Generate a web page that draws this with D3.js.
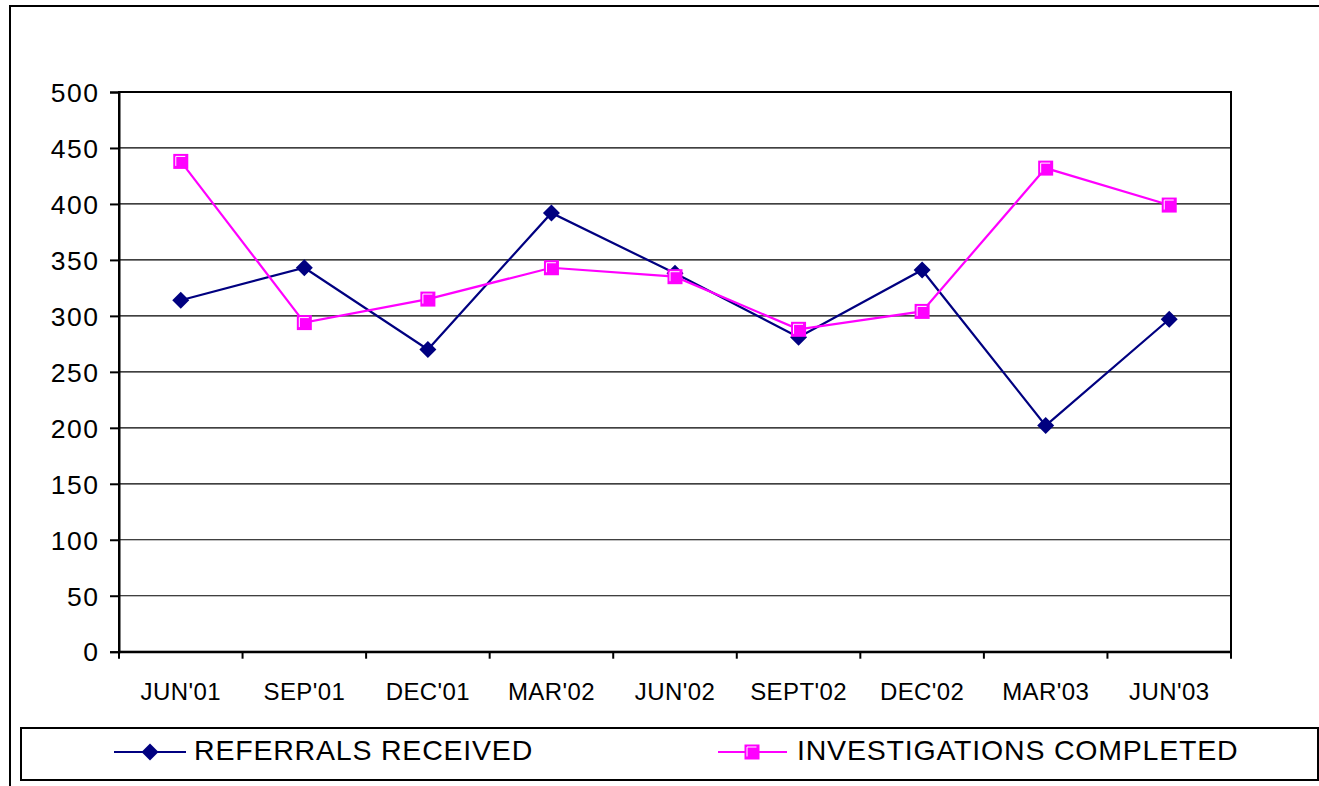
<!DOCTYPE html>
<html>
<head>
<meta charset="utf-8">
<script src="https://cdn.jsdelivr.net/npm/d3@7/dist/d3.min.js"></script>
<style>
html,body{margin:0;padding:0;background:#fff;}
svg{display:block;font-family:"Liberation Sans",Arial,sans-serif;}
</style>
</head>
<body>
<svg id="chart" width="1319" height="786"></svg>
<script>
const categories = ["JUN'01","SEP'01","DEC'01","MAR'02","JUN'02","SEPT'02","DEC'02","MAR'03","JUN'03"];
const referrals = [314, 343, 270, 392, 338, 281, 341, 202, 297];
const investigations = [438, 294, 315, 343, 335, 288, 304, 432, 399];
const yTicks = [0,50,100,150,200,250,300,350,400,450,500];
const seriesNames = ["REFERRALS RECEIVED","INVESTIGATIONS COMPLETED"];

const svg = d3.select("#chart");
const navy = "#000080", magenta = "#FF00FF";

// outer frame
svg.append("rect").attr("x",10).attr("y",6).attr("width",1400).attr("height",900)
  .attr("fill","none").attr("stroke","#000").attr("stroke-width",2);

const x = d3.scaleBand().domain(categories).range([119,1231]).padding(0);
const y = d3.scaleLinear().domain([0,500]).range([651.7,92]);

// gridlines
svg.append("g").selectAll("line").data(yTicks.filter(d=>d>0)).join("line")
  .attr("x1",119).attr("x2",1231).attr("y1",d=>y(d)).attr("y2",d=>y(d))
  .attr("stroke","#000").attr("stroke-width",1.2);

// plot border
svg.append("rect").attr("x",119).attr("y",y(500)).attr("width",1231-119).attr("height",y(0)-y(500))
  .attr("fill","none").attr("stroke","#000").attr("stroke-width",2);

// y axis
const yAxis = d3.axisLeft(y).tickValues(yTicks).tickSize(9).tickPadding(10.5);
const gy = svg.append("g").attr("transform","translate(119,0)").call(yAxis);
gy.select(".domain").attr("stroke","#000").attr("stroke-width",2);
gy.selectAll(".tick line").attr("stroke","#000").attr("stroke-width",2);
gy.selectAll(".tick text").attr("font-size","26.5px").attr("fill","#000").attr("letter-spacing","1.5px")
  .attr("font-family","'Liberation Sans',Arial,sans-serif").attr("dy","0.35em");

// x axis
const xAxis = d3.axisBottom(x).tickSize(0).tickPadding(0);
const gx = svg.append("g").attr("transform",`translate(0,${y(0)})`).call(xAxis);
gx.select(".domain").attr("stroke","#000").attr("stroke-width",2);
gx.selectAll(".tick text").attr("font-size","24px").attr("fill","#000").attr("letter-spacing","0.4px")
  .attr("font-family","'Liberation Sans',Arial,sans-serif").attr("dy",null).attr("y",48);
// category boundary ticks
const bounds = categories.map(c=>x(c)).concat([x(categories[categories.length-1])+x.bandwidth()]);
svg.append("g").selectAll("line").data(bounds).join("line")
  .attr("x1",d=>d).attr("x2",d=>d).attr("y1",y(0)).attr("y2",y(0)+7)
  .attr("stroke","#000").attr("stroke-width",2);

const cx = c => x(c)+x.bandwidth()/2;
const line = d3.line().x((d,i)=>cx(categories[i])).y(d=>y(d));

function diamond(g, px, py){
  const r = 8.5;
  g.append("path").attr("d",`M${px},${py-r}L${px+r},${py}L${px},${py+r}L${px-r},${py}Z`).attr("fill",navy);
}
function square(g, px, py){
  const s = 15;
  g.append("rect").attr("x",px-s/2).attr("y",py-s/2).attr("width",s).attr("height",s).attr("fill",magenta);
  g.append("path").attr("d",`M${px-s/2+2.5},${py+s/2-3}L${px-s/2+2.5},${py-s/2+2.5}L${px+s/2-3},${py-s/2+2.5}`)
    .attr("fill","none").attr("stroke","#fff").attr("stroke-width",1);
}

svg.append("path").datum(referrals).attr("d",line).attr("fill","none").attr("stroke",navy).attr("stroke-width",2.2);
svg.append("path").datum(investigations).attr("d",line).attr("fill","none").attr("stroke",magenta).attr("stroke-width",2.2);

const gm1 = svg.append("g");
referrals.forEach((v,i)=>diamond(gm1, cx(categories[i]), y(v)));
const gm2 = svg.append("g");
investigations.forEach((v,i)=>square(gm2, cx(categories[i]), y(v)));

// legend
svg.append("rect").attr("x",21).attr("y",728).attr("width",1297).attr("height",52)
  .attr("fill","#fff").attr("stroke","#000").attr("stroke-width",2);
const lg = svg.append("g");
lg.append("line").attr("x1",114).attr("x2",186).attr("y1",752).attr("y2",752).attr("stroke",navy).attr("stroke-width",2);
diamond(lg,150,752);
lg.append("text").attr("x",194).attr("y",760).attr("font-size","28.5px").attr("letter-spacing","0.8px").attr("fill","#000").text(seriesNames[0]);
lg.append("line").attr("x1",718).attr("x2",787).attr("y1",752).attr("y2",752).attr("stroke",magenta).attr("stroke-width",2);
square(lg,752,752);
lg.append("text").attr("x",797).attr("y",760).attr("font-size","28.5px").attr("letter-spacing","0.8px").attr("fill","#000").text(seriesNames[1]);
</script>
</body>
</html>
